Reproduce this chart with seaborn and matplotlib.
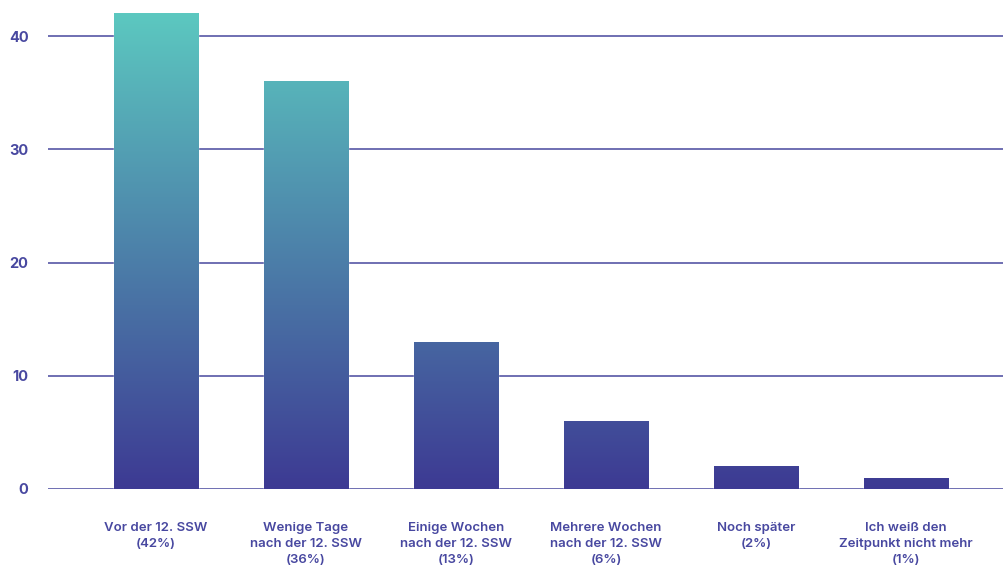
import matplotlib
import numpy as np
import pandas as pd
import seaborn as sns
matplotlib.use("Agg")
import matplotlib.pyplot as plt
from matplotlib.colors import LinearSegmentedColormap

categories = [
    "Vor der 12. SSW\n(42%)",
    "Wenige Tage\nnach der 12. SSW\n(36%)",
    "Einige Wochen\nnach der 12. SSW\n(13%)",
    "Mehrere Wochen\nnach der 12. SSW\n(6%)",
    "Noch später\n(2%)",
    "Ich weiß den\nZeitpunkt nicht mehr\n(1%)",
]
values = [42, 36, 13, 6, 2, 1]
y_ticks = [0, 10, 20, 30, 40]

TEXT = "#4848a0"
GRID = "#6f6fb2"
grad = LinearSegmentedColormap.from_list("g", ["#3d3a93", "#5cc8c0"])

sns.set_theme(style="white")
plt.rcParams["font.family"] = ["Inter", "DejaVu Sans"]

df = pd.DataFrame({"cat": categories, "val": values})

fig = plt.figure(figsize=(10.04, 5.72), dpi=100)
ax = fig.add_axes([48 / 1004, 1 - 489 / 572, 1 - 48 / 1004, 489 / 572])

sns.barplot(data=df, x="cat", y="val", ax=ax, width=0.56, color="#3d3a93",
            saturation=1, zorder=3)

ax.set_yticks(y_ticks)
ax.yaxis.grid(True, color=GRID, linewidth=1.4, zorder=0)
ax.set_axisbelow(True)
for s in ax.spines.values():
    s.set_visible(False)

# vertical gradient shared by all bars, mapped on the data scale
gy = np.linspace(0, 1, 256).reshape(-1, 1)
for p in ax.patches:
    x0 = p.get_x()
    im = ax.imshow(gy, cmap=grad, origin="lower", aspect="auto",
                   extent=[x0, x0 + p.get_width(), 0, max(values)], zorder=4)
    im.set_clip_path(p)
ax.set_xlim(-0.72, 5.653)
ax.set_ylim(0, 43.18)

ax.set_xlabel("")
ax.set_ylabel("")
ax.tick_params(axis="y", length=0, pad=14, labelsize=10.5, labelcolor=TEXT)
ax.tick_params(axis="x", length=0, pad=24, labelsize=9.5, labelcolor=TEXT)
for t in ax.get_yticklabels():
    t.set_fontweight("bold")
for t in ax.get_xticklabels():
    t.set_fontweight("semibold")
    t.set_linespacing(1.45)
    t.set_va("top")

fig.savefig("out.png", dpi=100)
